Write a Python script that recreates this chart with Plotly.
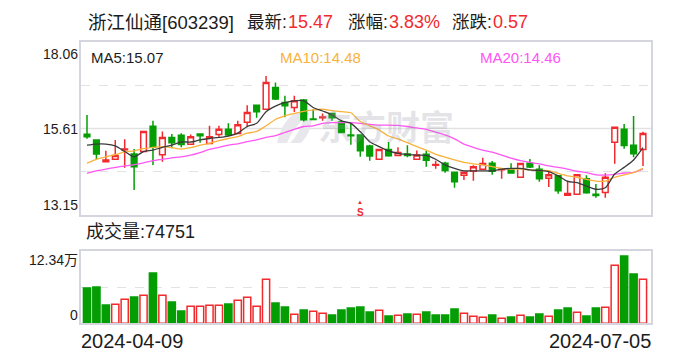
import plotly.graph_objects as go

title_name = "浙江仙通[603239]"
latest = "15.47"
pct = "3.83%"
change = "0.57"
ma5_label, ma10_label, ma20_label = "MA5:15.07", "MA10:14.48", "MA20:14.46"
vol_label = "成交量:74751"
date_labels = ["2024-04-09", "2024-07-05"]
price_ticks = [13.15, 15.61, 18.06]
vol_max = 12.34

opens = [15.45,15.29,14.67,14.74,15.01,14.89,14.96,15.68,14.87,15.36,15.42,15.17,15.46,15.19,15.44,15.59,15.47,15.79,16.27,16.16,
         16.78,16.35,16.21,16.42,15.88,15.92,16.04,15.80,15.43,15.43,15.12,14.74,15.02,14.85,14.89,14.74,14.88,14.57,14.63,14.37,
         14.29,14.40,14.46,14.63,14.44,14.44,14.23,14.63,14.46,14.20,14.27,13.72,13.75,14.19,13.75,13.80,15.22,15.59,15.14,15.02]
closes = [15.38,14.89,14.72,14.85,15.03,14.53,15.53,15.08,15.36,15.21,15.16,15.38,15.41,15.38,15.59,15.43,15.72,16.07,16.09,16.92,
          16.45,16.26,16.40,15.86,15.87,15.94,15.92,15.50,15.41,14.98,14.83,15.02,14.84,14.93,14.85,14.86,14.71,14.59,14.42,14.10,
          14.37,14.53,14.62,14.40,14.46,14.35,14.62,14.52,14.19,14.30,13.85,13.77,14.30,13.79,13.71,14.23,15.65,15.13,14.90,15.47]
highs = [16.00,15.29,14.98,15.29,15.31,15.03,15.53,15.83,15.53,15.46,15.48,15.44,15.46,15.69,15.69,15.76,15.83,16.27,16.27,17.10,
         16.92,16.54,16.54,16.45,16.16,16.04,16.06,15.86,15.76,15.43,15.15,15.02,15.23,15.08,15.14,14.99,14.98,14.70,14.67,14.37,
         14.37,14.57,14.78,14.69,14.47,14.63,14.63,14.75,14.57,14.42,14.29,14.14,14.30,14.29,14.04,14.34,15.65,15.74,15.97,15.52]
lows = [15.32,14.72,14.67,14.74,14.50,13.87,14.96,14.58,14.67,15.05,15.08,15.16,15.21,15.19,15.38,15.40,15.47,15.65,15.92,16.14,
        16.42,15.93,16.08,15.81,15.87,15.83,15.83,15.48,15.15,14.81,14.70,14.74,14.81,14.84,14.80,14.74,14.53,14.47,14.36,13.93,
        14.15,14.13,14.46,14.30,14.19,14.33,14.23,14.49,14.10,13.95,13.76,13.72,13.75,13.76,13.65,13.65,14.61,15.04,14.80,14.55]
ma5 = [15.14,15.17,15.17,15.12,14.96,14.81,14.96,15.00,15.08,15.14,15.23,15.23,15.29,15.33,15.36,15.40,15.48,15.67,15.76,16.09,
       16.25,16.35,16.40,16.40,16.21,16.11,16.00,15.83,15.76,15.52,15.24,15.10,14.98,14.91,14.88,14.86,14.85,14.74,14.58,14.48,
       14.41,14.41,14.41,14.41,14.46,14.48,14.48,14.44,14.42,14.39,14.27,14.11,14.08,13.98,13.89,13.93,14.32,14.51,14.72,15.07]
ma10 = [14.63,14.74,14.81,14.87,14.95,14.98,15.04,15.08,15.10,15.07,15.03,15.07,15.14,15.19,15.27,15.33,15.38,15.48,15.53,15.69,
        15.87,15.97,16.04,16.10,16.14,16.16,16.12,16.09,16.06,15.81,15.69,15.57,15.40,15.32,15.21,15.10,15.00,14.88,14.80,14.72,
        14.65,14.61,14.58,14.53,14.48,14.46,14.46,14.44,14.42,14.42,14.34,14.27,14.23,14.17,14.12,14.12,14.23,14.30,14.36,14.48]
ma20 = [14.34,14.41,14.46,14.51,14.55,14.59,14.64,14.70,14.74,14.78,14.81,14.86,14.93,15.02,15.08,15.14,15.18,15.24,15.29,15.36,
        15.41,15.50,15.59,15.67,15.69,15.76,15.78,15.78,15.78,15.76,15.73,15.71,15.71,15.70,15.67,15.63,15.59,15.51,15.43,15.32,
        15.17,15.08,15.00,14.94,14.86,14.77,14.70,14.65,14.61,14.55,14.51,14.46,14.40,14.36,14.30,14.29,14.31,14.35,14.37,14.46]
volumes = [6.06,6.23,3.14,3.26,4.11,4.51,4.80,8.63,4.80,3.66,2.11,2.91,2.91,3.09,3.09,3.31,3.94,4.46,2.91,7.54,
           3.48,2.80,1.54,2.29,2.06,1.71,1.43,2.29,2.63,2.80,1.94,2.23,1.26,1.37,1.60,1.54,1.94,1.43,1.43,2.46,
           1.71,1.20,1.03,1.43,0.86,1.09,1.37,1.09,1.60,1.20,2.29,2.63,1.89,1.26,2.63,2.74,9.94,11.54,8.46,7.54]
vol_up = [0,0,0,1,1,0,1,0,1,0,0,1,1,1,1,0,1,1,1,1,
          0,0,1,0,1,1,0,0,0,0,0,1,0,1,0,1,0,0,0,0,
          1,1,1,0,1,0,1,0,0,1,0,0,1,0,0,1,1,0,0,1]

RED, GREEN, GRID, BORDER, INK = "#f2292d", "#049e04", "#e2e2e2", "#d5d5dd", "#1c1c1c"
MA5C, MA10C, MA20C = "#3a3a3a", "#f9b23c", "#ff55f5"
FONT = "Liberation Sans, Noto Sans CJK SC"
W, H = 688, 360
idx = list(range(len(closes)))
L, R = 80.5, 651

fig = go.Figure()
fig.add_trace(go.Candlestick(
    x=idx, open=opens, high=highs, low=lows, close=closes, xaxis="x", yaxis="y",
    increasing=dict(line=dict(color=RED, width=1.5), fillcolor="#ffffff"),
    decreasing=dict(line=dict(color=GREEN, width=1.5), fillcolor=GREEN),
    whiskerwidth=0, showlegend=False))
for s, c, w in ((ma20, MA20C, 1.3), (ma10, MA10C, 1.3), (ma5, MA5C, 1.3)):
    fig.add_trace(go.Scatter(x=idx, y=s, mode="lines", xaxis="x", yaxis="y", showlegend=False,
                             line=dict(color=c, width=w, shape="spline", smoothing=0.7)))
fig.add_trace(go.Bar(
    x=idx, y=volumes, xaxis="x2", yaxis="y2", width=0.76, showlegend=False,
    marker=dict(color=["#ffffff" if u else GREEN for u in vol_up],
                line=dict(color=[RED if u else GREEN for u in vol_up], width=1.5))))

def T(text, x, y, size=14, color=INK, anchor="left", **kw):
    return dict(text=text, x=x / W, y=1 - y / H, xref="paper", yref="paper", showarrow=False,
                xanchor=anchor, yanchor="middle", font=dict(family=FONT, size=size, color=color), **kw)

ann = [
    T("<b>东方财富</b>", 386, 128, 34, "rgba(150,150,165,0.26)", "center"),
    T(title_name, 86, 22, 18.5), T("最新:", 245, 22, 17.5), T(latest, 286, 22, 18, RED),
    T("涨幅:", 346, 22, 17.5), T(pct, 387, 22, 18, RED), T("涨跌:", 450, 22, 17.5), T(change, 491, 22, 18, RED),
    T(ma5_label, 89, 57, 15), T(ma10_label, 278, 57, 15, MA10C), T(ma20_label, 478, 57, 15, MA20C),
    T(str(price_ticks[2]), 80, 54, 14, anchor="right"), T(str(price_ticks[1]), 80, 129, 14, anchor="right"),
    T(str(price_ticks[0]), 80, 205, 14, anchor="right"),
    T(vol_label, 84, 232, 18), T(f"{vol_max}万", 80, 260, 14, anchor="right"), T("0", 80, 315, 14, anchor="right"),
    T(date_labels[0], 79, 341, 20), T(date_labels[1], 653, 341, 20, anchor="right"),
    T("▲", 360, 202, 6, RED, "center"), T("<b>S</b>", 360, 212, 10, RED, "center"),
]
axis = dict(showline=True, mirror=True, linecolor=BORDER, linewidth=1.5, zeroline=False, ticks="", showticklabels=False)
mid_price = price_ticks[1]
fig.add_shape(type="line", xref="x domain", yref="y", x0=0, x1=1, y0=mid_price, y1=mid_price,
              line=dict(color=GRID, width=1.5), layer="below")

def pt(x, y):
    return f"{x / W:.4f},{1 - y / H:.4f}"

fig.add_shape(type="path", xref="paper", yref="paper", layer="below", line=dict(width=0), fillcolor="#e8e8ec",
              path=f"M{pt(310, 113)} L{pt(294, 113)} Q{pt(280, 125)} {pt(277, 143)} L{pt(287, 143)} Q{pt(293, 127)} {pt(310, 113)} Z")
fig.add_shape(type="path", xref="paper", yref="paper", layer="below", line=dict(width=0), fillcolor="#e8e8ec",
              path=f"M{pt(312, 120)} L{pt(303, 120)} Q{pt(300, 133)} {pt(290, 143)} L{pt(301, 143)} Q{pt(310, 134)} {pt(312, 120)} Z")
fig.update_layout(
    width=W, height=H, autosize=False, margin=dict(l=0, r=0, t=0, b=0),
    paper_bgcolor="#ffffff", plot_bgcolor="#ffffff", boxgap=0.14, bargap=0.2, annotations=ann,
    xaxis=dict(axis, domain=[L / W, R / W], range=[-0.69, 59.85], showgrid=False, rangeslider=dict(visible=False)),
    yaxis=dict(axis, domain=[1 - 215.3 / H, 1 - 42.3 / H], range=[price_ticks[0], price_ticks[2]],
               tickvals=[14.38, 16.83], showgrid=True, gridcolor=GRID, griddash="dash", gridwidth=1.2),
    xaxis2=dict(axis, domain=[L / W, R / W], range=[-0.69, 59.85], showgrid=False, anchor="y2"),
    yaxis2=dict(axis, domain=[1 - 323.3 / H, 1 - 251.3 / H], range=[0, vol_max], anchor="x2",
                tickvals=[vol_max / 2], showgrid=True, gridcolor=GRID, griddash="dash", gridwidth=1.2),
)
fig.write_html("out.html", config=dict(displayModeBar=False),
               post_script="document.body.style.margin='0';document.documentElement.style.overflow='hidden';")
